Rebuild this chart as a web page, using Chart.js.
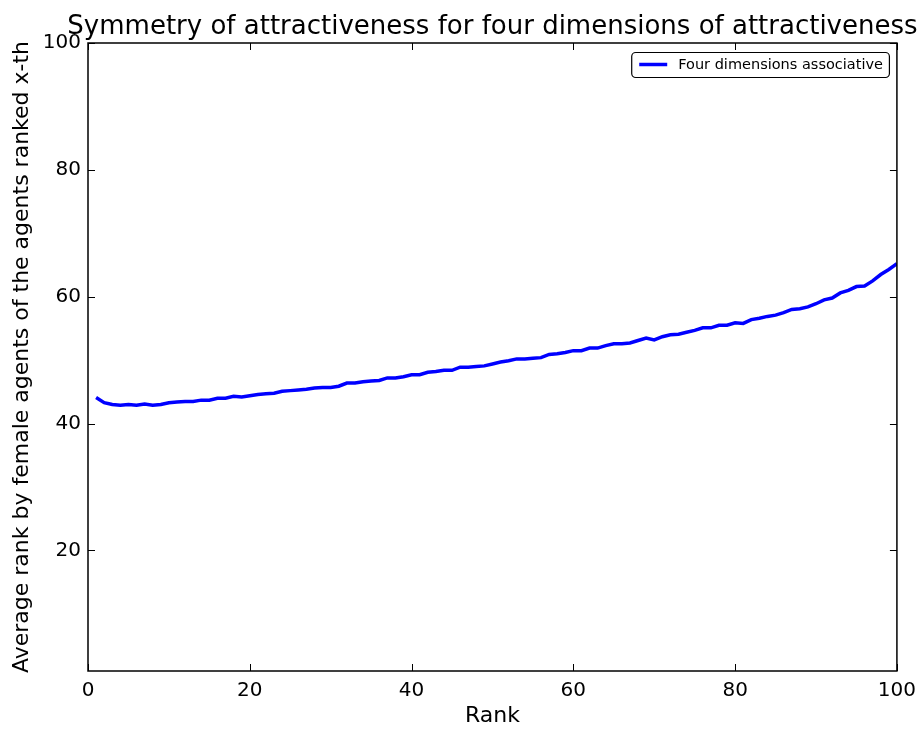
<!DOCTYPE html>
<html>
<head>
<meta charset="utf-8">
<script src="https://cdn.jsdelivr.net/npm/chart.js@4.4.0/dist/chart.umd.min.js"></script>
<style>
  body { margin: 0; background: #fff; }
  #wrap { width: 924px; height: 729px; }
</style>
</head>
<body>
<div id="wrap"><canvas id="rankChart" width="924" height="729"></canvas></div>
<script>
// values
const ranks = [];
for (let i = 1; i <= 100; i++) ranks.push(i);
const avgRank = [
    44.1, 43.3, 43.0, 42.9, 43.0, 42.9, 43.1, 42.9, 43.0, 43.3,
    43.4, 43.5, 43.5, 43.7, 43.7, 44.0, 44.0, 44.3, 44.2, 44.4,
    44.6, 44.7, 44.8, 45.1, 45.2, 45.3, 45.4, 45.6, 45.7, 45.7,
    45.9, 46.4, 46.4, 46.6, 46.7, 46.8, 47.2, 47.2, 47.4, 47.7,
    47.7, 48.1, 48.2, 48.4, 48.4, 48.9, 48.9, 49.0, 49.1, 49.4,
    49.7, 49.9, 50.2, 50.2, 50.3, 50.4, 50.9, 51.0, 51.2, 51.5,
    51.5, 51.9, 51.9, 52.3, 52.6, 52.6, 52.7, 53.1, 53.5, 53.2,
    53.7, 54.0, 54.1, 54.4, 54.7, 55.1, 55.1, 55.5, 55.5, 55.9,
    55.8, 56.4, 56.6, 56.9, 57.1, 57.5, 58.0, 58.1, 58.4, 58.9,
    59.5, 59.8, 60.6, 61.0, 61.6, 61.7, 62.5, 63.5, 64.3, 65.2
];
const xTicks = [0, 20, 40, 60, 80, 100];
const yTicks = [20, 40, 60, 80, 100];
const seriesName = "Four dimensions associative";
const chartTitle = "Symmetry of attractiveness for four dimensions of attractiveness";

const FONT = "'DejaVu Sans', sans-serif";

// matplotlib-ish frame, inward ticks, title and legend inside the axes
const mplLook = {
    id: 'mplLook',
    afterDatasetsDraw(chart) {
        const ctx = chart.ctx;
        const a = chart.chartArea;
        const xs = chart.scales.x, ys = chart.scales.y;
        ctx.save();
        ctx.strokeStyle = '#000';
        ctx.lineWidth = 1;
        xTicks.forEach(v => {
            const px = Math.round(xs.getPixelForValue(v)) + 0.5;
            ctx.beginPath();
            ctx.moveTo(px, a.bottom); ctx.lineTo(px, a.bottom - 7);
            ctx.moveTo(px, a.top); ctx.lineTo(px, a.top + 7);
            ctx.stroke();
        });
        yTicks.forEach(v => {
            const py = Math.round(ys.getPixelForValue(v)) + 0.5;
            ctx.beginPath();
            ctx.moveTo(a.left, py); ctx.lineTo(a.left + 7, py);
            ctx.moveTo(a.right, py); ctx.lineTo(a.right - 7, py);
            ctx.stroke();
        });
        ctx.lineWidth = 1.5;
        ctx.strokeRect(a.left, a.top, a.right - a.left, a.bottom - a.top);

        // title, centred over the axes
        ctx.fillStyle = '#000';
        ctx.font = '26px ' + FONT;
        ctx.textAlign = 'center';
        ctx.textBaseline = 'middle';
        ctx.fillText(chartTitle, (a.left + a.right) / 2, 27);

        // legend box, upper right
        const ds = chart.data.datasets[0];
        ctx.font = '14.5px ' + FONT;
        const tw = ctx.measureText(ds.label).width;
        const bw = 8 + 28 + 11 + tw + 6, bh = 25;
        const bx = a.right - 8 - bw, by = a.top + 9;
        ctx.beginPath();
        ctx.roundRect(bx + 0.5, by + 0.5, bw, bh, 4);
        ctx.fillStyle = '#fff';
        ctx.fill();
        ctx.lineWidth = 1.2;
        ctx.strokeStyle = '#000';
        ctx.stroke();
        ctx.beginPath();
        ctx.strokeStyle = ds.borderColor;
        ctx.lineWidth = 3.5;
        ctx.moveTo(bx + 8, by + bh / 2);
        ctx.lineTo(bx + 36, by + bh / 2);
        ctx.stroke();
        ctx.fillStyle = '#000';
        ctx.textAlign = 'left';
        ctx.fillText(ds.label, bx + 47, by + bh / 2 + 1);
        ctx.restore();
    }
};

const ctx = document.getElementById('rankChart');
const chart = new Chart(ctx, {
    type: 'line',
    data: {
        labels: ranks,
        datasets: [{
            label: seriesName,
            data: ranks.map((r, i) => ({ x: r, y: avgRank[i] })),
            borderColor: '#0000ff',
            borderWidth: 3.5,
            pointRadius: 0,
            tension: 0,
            fill: false
        }]
    },
    options: {
        responsive: false,
        animation: false,
        layout: { padding: { top: 43, right: 25, left: 0, bottom: 0 } },
        plugins: {
            legend: { display: false },
            title: { display: false },
            tooltip: { enabled: false }
        },
        scales: {
            x: {
                type: 'linear',
                min: 0,
                max: 100,
                grid: { display: false, drawTicks: false },
                border: { display: false },
                afterBuildTicks: s => { s.ticks = xTicks.map(v => ({ value: v })); },
                afterFit: s => { s.height = 58; },
                ticks: { color: '#000', padding: 8, maxRotation: 0, font: { family: FONT, size: 20 } },
                title: { display: true, text: 'Rank', color: '#000', padding: 0, font: { family: FONT, size: 22 } }
            },
            y: {
                type: 'linear',
                min: 1,
                max: 100,
                grid: { display: false, drawTicks: false },
                border: { display: false },
                afterBuildTicks: s => { s.ticks = yTicks.map(v => ({ value: v })); },
                afterFit: s => { s.width = 88; },
                ticks: { color: '#000', padding: 7, font: { family: FONT, size: 20 } },
                title: {
                    display: true,
                    text: 'Average rank by female agents of the agents ranked x-th',
                    color: '#000',
                    padding: { top: 9, bottom: 0 },
                    font: { family: FONT, size: 22 }
                }
            }
        }
    },
    plugins: [mplLook]
});
</script>
</body>
</html>
